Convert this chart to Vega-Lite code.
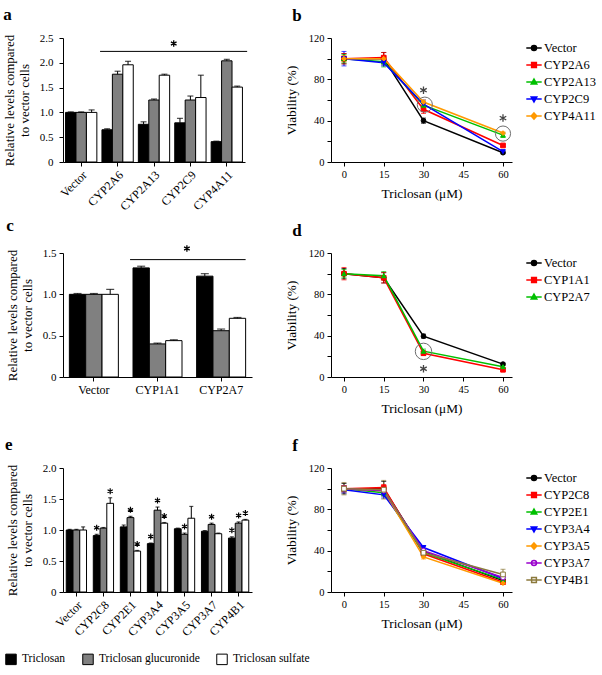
{
  "$schema": "https://vega.github.io/schema/vega-lite/v6.json",
  "padding": {"left": 3, "top": 6, "right": 0, "bottom": 0},
  "background": "white",
  "config": {
    "view": {"stroke": null},
    "font": "Liberation Serif",
    "axis": {"grid": false, "labelFont": "Liberation Serif", "titleFont": "Liberation Serif", "labelColor": "black", "titleColor": "black", "domainColor": "black", "tickColor": "black", "titleFontWeight": "normal", "tickSize": 4, "domainWidth": 1, "tickWidth": 1},
    "legend": {"labelFont": "Liberation Serif", "labelFontSize": 12.5, "labelColor": "black", "symbolSize": 196, "rowPadding": 2, "offset": 12, "padding": 2, "labelOffset": 2},
    "title": {"anchor": "start", "frame": "bounds", "font": "Liberation Serif", "fontSize": 17, "fontWeight": "bold", "color": "black", "offset": 8},
    "text": {"font": "Liberation Serif"}
  },
  "resolve": {"scale": {"xOffset": "independent", "fill": "independent", "color": "independent", "stroke": "independent", "shape": "independent"}, "legend": {"fill": "independent", "color": "independent", "stroke": "independent", "shape": "independent"}},
  "datasets": {
    "barsA": [
      {"g": "Vector", "m": "Triclosan", "v": 1.0, "hi": 1.01},
      {"g": "Vector", "m": "Triclosan glucuronide", "v": 1.0, "hi": 1.01},
      {"g": "Vector", "m": "Triclosan sulfate", "v": 1.0, "hi": 1.05},
      {"g": "CYP2A6", "m": "Triclosan", "v": 0.65, "hi": 0.67},
      {"g": "CYP2A6", "m": "Triclosan glucuronide", "v": 1.77, "hi": 1.83},
      {"g": "CYP2A6", "m": "Triclosan sulfate", "v": 1.96, "hi": 2.03},
      {"g": "CYP2A13", "m": "Triclosan", "v": 0.76, "hi": 0.81},
      {"g": "CYP2A13", "m": "Triclosan glucuronide", "v": 1.25, "hi": 1.27},
      {"g": "CYP2A13", "m": "Triclosan sulfate", "v": 1.75, "hi": 1.77},
      {"g": "CYP2C9", "m": "Triclosan", "v": 0.79, "hi": 0.88},
      {"g": "CYP2C9", "m": "Triclosan glucuronide", "v": 1.25, "hi": 1.33},
      {"g": "CYP2C9", "m": "Triclosan sulfate", "v": 1.30, "hi": 1.75},
      {"g": "CYP4A11", "m": "Triclosan", "v": 0.41, "hi": 0.42},
      {"g": "CYP4A11", "m": "Triclosan glucuronide", "v": 2.04, "hi": 2.07},
      {"g": "CYP4A11", "m": "Triclosan sulfate", "v": 1.51, "hi": 1.53}
    ],
    "sigA": [{"x1": "CYP2A6", "x2": "CYP4A11", "y": 2.23, "xs": "CYP2A13", "ys": 2.39}],
    "barsC": [
      {"g": "Vector", "m": "Triclosan", "v": 1.0, "hi": 1.01},
      {"g": "Vector", "m": "Triclosan glucuronide", "v": 1.0, "hi": 1.01},
      {"g": "Vector", "m": "Triclosan sulfate", "v": 1.0, "hi": 1.06},
      {"g": "CYP1A1", "m": "Triclosan", "v": 1.32, "hi": 1.34},
      {"g": "CYP1A1", "m": "Triclosan glucuronide", "v": 0.40, "hi": 0.41},
      {"g": "CYP1A1", "m": "Triclosan sulfate", "v": 0.44, "hi": 0.45},
      {"g": "CYP2A7", "m": "Triclosan", "v": 1.22, "hi": 1.25},
      {"g": "CYP2A7", "m": "Triclosan glucuronide", "v": 0.56, "hi": 0.58},
      {"g": "CYP2A7", "m": "Triclosan sulfate", "v": 0.71, "hi": 0.72}
    ],
    "sigC": [{"x1": "CYP1A1", "x2": "CYP2A7", "y": 1.42, "xs": "CYP1A1", "ys": 1.555}],
    "barsE": [
      {"g": "Vector", "m": "Triclosan", "v": 1.0, "hi": 1.01},
      {"g": "Vector", "m": "Triclosan glucuronide", "v": 1.0, "hi": 1.01},
      {"g": "Vector", "m": "Triclosan sulfate", "v": 1.0, "hi": 1.05},
      {"g": "CYP2C8", "m": "Triclosan", "v": 0.91, "hi": 0.93},
      {"g": "CYP2C8", "m": "Triclosan glucuronide", "v": 1.03, "hi": 1.04},
      {"g": "CYP2C8", "m": "Triclosan sulfate", "v": 1.43, "hi": 1.52},
      {"g": "CYP2E1", "m": "Triclosan", "v": 1.05, "hi": 1.08},
      {"g": "CYP2E1", "m": "Triclosan glucuronide", "v": 1.20, "hi": 1.22},
      {"g": "CYP2E1", "m": "Triclosan sulfate", "v": 0.66, "hi": 0.67},
      {"g": "CYP3A4", "m": "Triclosan", "v": 0.78, "hi": 0.79},
      {"g": "CYP3A4", "m": "Triclosan glucuronide", "v": 1.32, "hi": 1.37},
      {"g": "CYP3A4", "m": "Triclosan sulfate", "v": 1.11, "hi": 1.12},
      {"g": "CYP3A5", "m": "Triclosan", "v": 1.02, "hi": 1.03},
      {"g": "CYP3A5", "m": "Triclosan glucuronide", "v": 0.93, "hi": 0.95},
      {"g": "CYP3A5", "m": "Triclosan sulfate", "v": 1.19, "hi": 1.38},
      {"g": "CYP3A7", "m": "Triclosan", "v": 0.98, "hi": 0.99},
      {"g": "CYP3A7", "m": "Triclosan glucuronide", "v": 1.09, "hi": 1.11},
      {"g": "CYP3A7", "m": "Triclosan sulfate", "v": 0.94, "hi": 0.95},
      {"g": "CYP4B1", "m": "Triclosan", "v": 0.87, "hi": 0.89},
      {"g": "CYP4B1", "m": "Triclosan glucuronide", "v": 1.11, "hi": 1.13},
      {"g": "CYP4B1", "m": "Triclosan sulfate", "v": 1.16, "hi": 1.17}
    ],
    "starsE": [
      {"g": "CYP2C8", "m": "Triclosan", "y": 0.93},
      {"g": "CYP2C8", "m": "Triclosan sulfate", "y": 1.52},
      {"g": "CYP2E1", "m": "Triclosan glucuronide", "y": 1.22},
      {"g": "CYP2E1", "m": "Triclosan sulfate", "y": 0.67},
      {"g": "CYP3A4", "m": "Triclosan", "y": 0.79},
      {"g": "CYP3A4", "m": "Triclosan glucuronide", "y": 1.37},
      {"g": "CYP3A4", "m": "Triclosan sulfate", "y": 1.12},
      {"g": "CYP3A5", "m": "Triclosan glucuronide", "y": 0.95},
      {"g": "CYP3A7", "m": "Triclosan glucuronide", "y": 1.11},
      {"g": "CYP4B1", "m": "Triclosan", "y": 0.89},
      {"g": "CYP4B1", "m": "Triclosan glucuronide", "y": 1.13},
      {"g": "CYP4B1", "m": "Triclosan sulfate", "y": 1.17}
    ],
    "lineB": [
      {"s": "Vector", "x": 0, "y": 100, "lo": 95, "hi": 105},
      {"s": "Vector", "x": 15, "y": 100, "lo": 94, "hi": 106},
      {"s": "Vector", "x": 30, "y": 40, "lo": 37.5, "hi": 42.5},
      {"s": "Vector", "x": 60, "y": 9, "lo": 8, "hi": 10},
      {"s": "CYP2A6", "x": 0, "y": 100, "lo": 95, "hi": 105},
      {"s": "CYP2A6", "x": 15, "y": 101, "lo": 96, "hi": 106},
      {"s": "CYP2A6", "x": 30, "y": 51, "lo": 47, "hi": 55},
      {"s": "CYP2A6", "x": 60, "y": 16, "lo": 15, "hi": 17},
      {"s": "CYP2A13", "x": 0, "y": 100, "lo": 96, "hi": 104},
      {"s": "CYP2A13", "x": 15, "y": 97, "lo": 92, "hi": 102},
      {"s": "CYP2A13", "x": 30, "y": 55, "lo": 53, "hi": 57},
      {"s": "CYP2A13", "x": 60, "y": 26, "lo": 24, "hi": 28},
      {"s": "CYP2C9", "x": 0, "y": 100, "lo": 93, "hi": 107},
      {"s": "CYP2C9", "x": 15, "y": 96, "lo": 93, "hi": 99},
      {"s": "CYP2C9", "x": 30, "y": 56, "lo": 52, "hi": 60},
      {"s": "CYP2C9", "x": 60, "y": 10, "lo": 9, "hi": 11},
      {"s": "CYP4A11", "x": 0, "y": 100, "lo": 97, "hi": 103},
      {"s": "CYP4A11", "x": 15, "y": 100, "lo": 97, "hi": 103},
      {"s": "CYP4A11", "x": 30, "y": 58, "lo": 56, "hi": 60},
      {"s": "CYP4A11", "x": 60, "y": 28, "lo": 27, "hi": 29}
    ],
    "serB": [{"s": "Vector"}, {"s": "CYP2A6"}, {"s": "CYP2A13"}, {"s": "CYP2C9"}, {"s": "CYP4A11"}],
    "circB": [{"x": 30.5, "y": 55.5}, {"x": 60, "y": 27.5}],
    "starB": [{"x": 30, "y": 69.5}, {"x": 60, "y": 42.5}],
    "lineD": [
      {"s": "Vector", "x": 0, "y": 100, "lo": 95, "hi": 105},
      {"s": "Vector", "x": 15, "y": 96, "lo": 91, "hi": 101},
      {"s": "Vector", "x": 30, "y": 39.5, "lo": 37.5, "hi": 41.5},
      {"s": "Vector", "x": 60, "y": 12.5, "lo": 11.5, "hi": 13.5},
      {"s": "CYP1A1", "x": 0, "y": 100, "lo": 94, "hi": 106},
      {"s": "CYP1A1", "x": 15, "y": 96, "lo": 91, "hi": 101},
      {"s": "CYP1A1", "x": 30, "y": 23, "lo": 21, "hi": 25},
      {"s": "CYP1A1", "x": 60, "y": 7, "lo": 6, "hi": 8},
      {"s": "CYP2A7", "x": 0, "y": 100, "lo": 96, "hi": 104},
      {"s": "CYP2A7", "x": 15, "y": 98, "lo": 94, "hi": 102},
      {"s": "CYP2A7", "x": 30, "y": 25, "lo": 23, "hi": 27},
      {"s": "CYP2A7", "x": 60, "y": 10, "lo": 9, "hi": 11}
    ],
    "serD": [{"s": "Vector"}, {"s": "CYP1A1"}, {"s": "CYP2A7"}],
    "circD": [{"x": 30, "y": 24.8}],
    "starD": [{"x": 30, "y": 8}],
    "lineF": [
      {"s": "Vector", "x": 0, "y": 100, "lo": 95, "hi": 105},
      {"s": "Vector", "x": 15, "y": 100, "lo": 93, "hi": 107},
      {"s": "Vector", "x": 30, "y": 39, "lo": 37, "hi": 41},
      {"s": "Vector", "x": 60, "y": 11, "lo": 10, "hi": 12},
      {"s": "CYP2C8", "x": 0, "y": 100, "lo": 97, "hi": 103},
      {"s": "CYP2C8", "x": 15, "y": 101, "lo": 98, "hi": 104},
      {"s": "CYP2C8", "x": 30, "y": 37, "lo": 35, "hi": 39},
      {"s": "CYP2C8", "x": 60, "y": 9.5, "lo": 8.5, "hi": 10.5},
      {"s": "CYP2E1", "x": 0, "y": 100, "lo": 97, "hi": 103},
      {"s": "CYP2E1", "x": 15, "y": 96, "lo": 93, "hi": 99},
      {"s": "CYP2E1", "x": 30, "y": 38, "lo": 36, "hi": 40},
      {"s": "CYP2E1", "x": 60, "y": 12, "lo": 11, "hi": 13},
      {"s": "CYP3A4", "x": 0, "y": 99, "lo": 96, "hi": 102},
      {"s": "CYP3A4", "x": 15, "y": 94, "lo": 91, "hi": 97},
      {"s": "CYP3A4", "x": 30, "y": 43, "lo": 41, "hi": 45},
      {"s": "CYP3A4", "x": 60, "y": 13, "lo": 12, "hi": 14},
      {"s": "CYP3A5", "x": 0, "y": 100, "lo": 97, "hi": 103},
      {"s": "CYP3A5", "x": 15, "y": 98, "lo": 95, "hi": 101},
      {"s": "CYP3A5", "x": 30, "y": 34, "lo": 32, "hi": 36},
      {"s": "CYP3A5", "x": 60, "y": 8.5, "lo": 7.5, "hi": 9.5},
      {"s": "CYP3A7", "x": 0, "y": 100, "lo": 97, "hi": 103},
      {"s": "CYP3A7", "x": 15, "y": 98, "lo": 95, "hi": 101},
      {"s": "CYP3A7", "x": 30, "y": 40, "lo": 38, "hi": 42},
      {"s": "CYP3A7", "x": 60, "y": 14, "lo": 12, "hi": 16},
      {"s": "CYP4B1", "x": 0, "y": 100, "lo": 94, "hi": 106},
      {"s": "CYP4B1", "x": 15, "y": 99, "lo": 90, "hi": 108},
      {"s": "CYP4B1", "x": 30, "y": 38, "lo": 35, "hi": 41},
      {"s": "CYP4B1", "x": 60, "y": 17, "lo": 12, "hi": 22}
    ],
    "serF": [{"s": "Vector"}, {"s": "CYP2C8"}, {"s": "CYP2E1"}, {"s": "CYP3A4"}, {"s": "CYP3A5"}, {"s": "CYP3A7"}, {"s": "CYP4B1"}]
  },
  "columns": 2,
  "bounds": "flush",
  "spacing": {"column": 79, "row": 91},
  "concat": [
    {
      "width": 182, "height": 124,
      "title": {"text": "a"},
      "layer": [
        {"data": {"name": "barsA"}, "mark": {"type": "bar", "stroke": "black", "strokeWidth": 1},
         "encoding": {
           "x": {"field": "g", "type": "nominal", "title": null, "scale": {"domain": ["Vector", "CYP2A6", "CYP2A13", "CYP2C9", "CYP4A11"], "paddingInner": 0.14, "paddingOuter": 0.07}, "axis": {"labelAngle": -45, "labelFontSize": 12, "labelOverlap": false, "labelPadding": 3}},
           "xOffset": {"field": "m", "type": "nominal", "scale": {"domain": ["Triclosan", "Triclosan glucuronide", "Triclosan sulfate"], "paddingInner": 0, "paddingOuter": 0}},
           "y": {"field": "v", "type": "quantitative", "title": ["Relative levels compared", "to vector cells"], "scale": {"domain": [0, 2.5], "nice": false}, "axis": {"values": [0, 0.5, 1, 1.5, 2, 2.5], "tickCount": 20, "labelExpr": "datum.value === 0 ? '0' : format(datum.value, '.1f')", "labelOverlap": false, "labelFontSize": 11, "labelPadding": 6, "titleFontSize": 13, "titlePadding": 8}},
           "fill": {"field": "m", "type": "nominal", "scale": {"domain": ["Triclosan", "Triclosan glucuronide", "Triclosan sulfate"], "range": ["black", "#808080", "white"]}, "legend": null}
         }},
        {"data": {"name": "barsA"}, "mark": {"type": "rule", "color": "black", "strokeWidth": 1},
         "encoding": {
           "x": {"field": "g", "type": "nominal", "scale": {"domain": ["Vector", "CYP2A6", "CYP2A13", "CYP2C9", "CYP4A11"]}},
           "xOffset": {"field": "m", "type": "nominal", "scale": {"domain": ["Triclosan", "Triclosan glucuronide", "Triclosan sulfate"]}},
           "y": {"field": "v", "type": "quantitative"}, "y2": {"field": "hi"}}},
        {"data": {"name": "barsA"}, "mark": {"type": "tick", "orient": "horizontal", "color": "black", "size": 6, "thickness": 1.2},
         "encoding": {
           "x": {"field": "g", "type": "nominal", "scale": {"domain": ["Vector", "CYP2A6", "CYP2A13", "CYP2C9", "CYP4A11"]}},
           "xOffset": {"field": "m", "type": "nominal", "scale": {"domain": ["Triclosan", "Triclosan glucuronide", "Triclosan sulfate"]}},
           "y": {"field": "hi", "type": "quantitative"}}},
        {"data": {"name": "sigA"}, "mark": {"type": "rule", "color": "black", "strokeWidth": 1},
         "encoding": {
           "x": {"field": "x1", "type": "nominal", "bandPosition": -0.06, "scale": {"domain": ["Vector", "CYP2A6", "CYP2A13", "CYP2C9", "CYP4A11"]}},
           "x2": {"field": "x2", "bandPosition": 1.15},
           "y": {"field": "y", "type": "quantitative"}}},
        {"data": {"name": "sigA"}, "mark": {"type": "point", "shape": "M0,-1V1M-0.87,-0.5L0.87,0.5M-0.87,0.5L0.87,-0.5", "size": 42, "filled": false, "stroke": "black", "strokeWidth": 1.3, "opacity": 1},
         "encoding": {
           "x": {"field": "xs", "type": "nominal", "bandPosition": 1.13, "scale": {"domain": ["Vector", "CYP2A6", "CYP2A13", "CYP2C9", "CYP4A11"]}},
           "y": {"field": "ys", "type": "quantitative"}}}
      ]
    },
    {
      "width": 181, "height": 124,
      "title": {"text": "b", "dx": 8},
      "resolve": {"scale": {"color": "independent", "fill": "independent", "stroke": "independent", "shape": "independent"}},
      "layer": [
        {
          "data": {"name": "lineB"},
          "encoding": {
            "x": {"field": "x", "type": "quantitative", "title": "Triclosan (μM)", "scale": {"domain": [-4.9, 63.4], "nice": false, "zero": false}, "axis": {"values": [0, 15, 30, 45, 60], "tickCount": 20, "labelFontSize": 10.5, "labelPadding": 3, "titleFontSize": 13.3, "titlePadding": 7}}
          },
          "layer": [
            {"mark": {"type": "rule", "strokeWidth": 1},
             "encoding": {
               "y": {"field": "lo", "type": "quantitative", "title": "Viability (%)", "scale": {"domain": [0, 120], "nice": false}, "axis": {"values": [0, 20, 40, 60, 80, 100, 120], "tickCount": 20, "labelExpr": "datum.value % 40 === 0 ? datum.label : ''", "labelFontSize": 10.5, "labelPadding": 3, "titleFontSize": 13.3, "titlePadding": 10}},
               "y2": {"field": "hi"},
               "color": {"field": "s", "type": "nominal", "scale": {"domain": ["Vector", "CYP2A6", "CYP2A13", "CYP2C9", "CYP4A11"], "range": ["black", "#ff0000", "#00c000", "#0000ff", "#ff9900"]}, "legend": null}}},
            {"mark": {"type": "tick", "orient": "horizontal", "size": 5, "thickness": 1},
             "encoding": {"y": {"field": "lo", "type": "quantitative"}, "color": {"field": "s", "type": "nominal", "legend": null}}},
            {"mark": {"type": "tick", "orient": "horizontal", "size": 5, "thickness": 1},
             "encoding": {"y": {"field": "hi", "type": "quantitative"}, "color": {"field": "s", "type": "nominal", "legend": null}}},
            {"mark": {"type": "line", "strokeWidth": 1.5},
             "encoding": {"y": {"field": "y", "type": "quantitative"}, "color": {"field": "s", "type": "nominal", "legend": null}}},
            {"mark": {"type": "point", "filled": true, "size": 22, "strokeWidth": 1, "opacity": 1},
             "encoding": {
               "y": {"field": "y", "type": "quantitative"},
               "fill": {"field": "s", "type": "nominal", "scale": {"domain": ["Vector", "CYP2A6", "CYP2A13", "CYP2C9", "CYP4A11"], "range": ["black", "#ff0000", "#00c000", "#0000ff", "#ff9900"]}, "legend": null},
               "stroke": {"field": "s", "type": "nominal", "scale": {"domain": ["Vector", "CYP2A6", "CYP2A13", "CYP2C9", "CYP4A11"], "range": ["black", "#ff0000", "#00c000", "#0000ff", "#ff9900"]}, "legend": null},
               "shape": {"field": "s", "type": "nominal", "scale": {"domain": ["Vector", "CYP2A6", "CYP2A13", "CYP2C9", "CYP4A11"], "range": ["circle", "square", "triangle-up", "triangle-down", "diamond"]}, "legend": null}}}
          ]
        },
        {"data": {"name": "serB"}, "transform": [{"filter": "false"}],
         "mark": {"type": "point", "filled": true, "strokeWidth": 1.5, "opacity": 1},
         "encoding": {
           "fill": {"field": "s", "type": "nominal", "scale": {"domain": ["Vector", "CYP2A6", "CYP2A13", "CYP2C9", "CYP4A11"], "range": ["black", "#ff0000", "#00c000", "#0000ff", "#ff9900"]}, "legend": {"title": null}},
           "stroke": {"field": "s", "type": "nominal", "scale": {"domain": ["Vector", "CYP2A6", "CYP2A13", "CYP2C9", "CYP4A11"], "range": ["black", "#ff0000", "#00c000", "#0000ff", "#ff9900"]}, "legend": {"title": null}},
           "shape": {"field": "s", "type": "nominal", "scale": {"domain": ["Vector", "CYP2A6", "CYP2A13", "CYP2C9", "CYP4A11"], "range": ["M-1.1,0H1.1M0.36,0A0.36,0.36,0,1,1,-0.36,0A0.36,0.36,0,1,1,0.36,0Z", "M-1.1,0H1.1M-0.34,-0.34H0.34V0.34H-0.34Z", "M-1.1,0H1.1M0,-0.42L0.4,0.3H-0.4Z", "M-1.1,0H1.1M0,0.42L0.4,-0.3H-0.4Z", "M-1.1,0H1.1M0,-0.44L0.4,0L0,0.44L-0.4,0Z"]}, "legend": {"title": null}}}},
        {"data": {"name": "circB"}, "mark": {"type": "point", "shape": "circle", "size": 230, "filled": false, "stroke": "#6e6e6e", "strokeWidth": 1, "opacity": 1},
         "encoding": {"x": {"field": "x", "type": "quantitative", "scale": {"domain": [-4.9, 63.4], "nice": false, "zero": false}}, "y": {"field": "y", "type": "quantitative", "scale": {"domain": [0, 120], "nice": false}}}},
        {"data": {"name": "starB"}, "mark": {"type": "point", "shape": "M0,-1V1M-0.87,-0.5L0.87,0.5M-0.87,0.5L0.87,-0.5", "size": 56, "filled": false, "stroke": "#444444", "strokeWidth": 1.3, "opacity": 1},
         "encoding": {"x": {"field": "x", "type": "quantitative", "scale": {"domain": [-4.9, 63.4], "nice": false, "zero": false}}, "y": {"field": "y", "type": "quantitative", "scale": {"domain": [0, 120], "nice": false}}}}
      ]
    },
    {
      "width": 189, "height": 124,
      "title": {"text": "c"},
      "layer": [
        {"data": {"name": "barsC"}, "mark": {"type": "bar", "stroke": "black", "strokeWidth": 1},
         "encoding": {
           "x": {"field": "g", "type": "nominal", "title": null, "scale": {"domain": ["Vector", "CYP1A1", "CYP2A7"], "paddingInner": 0.23, "paddingOuter": 0.1}, "axis": {"labelAngle": 0, "labelFontSize": 12, "labelOverlap": false, "labelPadding": 3}},
           "xOffset": {"field": "m", "type": "nominal", "scale": {"domain": ["Triclosan", "Triclosan glucuronide", "Triclosan sulfate"], "paddingInner": 0, "paddingOuter": 0}},
           "y": {"field": "v", "type": "quantitative", "title": ["Relative levels compared", "to vector cells"], "scale": {"domain": [0, 1.5], "nice": false}, "axis": {"values": [0, 0.5, 1, 1.5], "tickCount": 20, "labelExpr": "datum.value === 0 ? '0' : format(datum.value, '.1f')", "labelOverlap": false, "labelFontSize": 11, "labelPadding": 3, "titleFontSize": 13, "titlePadding": 8}},
           "fill": {"field": "m", "type": "nominal", "scale": {"domain": ["Triclosan", "Triclosan glucuronide", "Triclosan sulfate"], "range": ["black", "#808080", "white"]}, "legend": null}
         }},
        {"data": {"name": "barsC"}, "mark": {"type": "rule", "color": "black", "strokeWidth": 1},
         "encoding": {
           "x": {"field": "g", "type": "nominal", "scale": {"domain": ["Vector", "CYP1A1", "CYP2A7"]}},
           "xOffset": {"field": "m", "type": "nominal", "scale": {"domain": ["Triclosan", "Triclosan glucuronide", "Triclosan sulfate"]}},
           "y": {"field": "v", "type": "quantitative"}, "y2": {"field": "hi"}}},
        {"data": {"name": "barsC"}, "mark": {"type": "tick", "orient": "horizontal", "color": "black", "size": 8, "thickness": 1.2},
         "encoding": {
           "x": {"field": "g", "type": "nominal", "scale": {"domain": ["Vector", "CYP1A1", "CYP2A7"]}},
           "xOffset": {"field": "m", "type": "nominal", "scale": {"domain": ["Triclosan", "Triclosan glucuronide", "Triclosan sulfate"]}},
           "y": {"field": "hi", "type": "quantitative"}}},
        {"data": {"name": "sigC"}, "mark": {"type": "rule", "color": "black", "strokeWidth": 1},
         "encoding": {
           "x": {"field": "x1", "type": "nominal", "bandPosition": -0.06, "scale": {"domain": ["Vector", "CYP1A1", "CYP2A7"]}},
           "x2": {"field": "x2", "bandPosition": 1.0},
           "y": {"field": "y", "type": "quantitative"}}},
        {"data": {"name": "sigC"}, "mark": {"type": "point", "shape": "M0,-1V1M-0.87,-0.5L0.87,0.5M-0.87,0.5L0.87,-0.5", "size": 42, "filled": false, "stroke": "black", "strokeWidth": 1.3, "opacity": 1},
         "encoding": {
           "x": {"field": "xs", "type": "nominal", "bandPosition": 1.1, "scale": {"domain": ["Vector", "CYP1A1", "CYP2A7"]}},
           "y": {"field": "ys", "type": "quantitative"}}}
      ]
    },
    {
      "width": 181, "height": 124,
      "title": {"text": "d", "dx": 8},
      "resolve": {"scale": {"color": "independent", "fill": "independent", "stroke": "independent", "shape": "independent"}},
      "layer": [
        {
          "data": {"name": "lineD"},
          "encoding": {
            "x": {"field": "x", "type": "quantitative", "title": "Triclosan (μM)", "scale": {"domain": [-4.9, 63.4], "nice": false, "zero": false}, "axis": {"values": [0, 15, 30, 45, 60], "tickCount": 20, "labelFontSize": 10.5, "labelPadding": 3, "titleFontSize": 13.3, "titlePadding": 7}}
          },
          "layer": [
            {"mark": {"type": "rule", "strokeWidth": 1},
             "encoding": {
               "y": {"field": "lo", "type": "quantitative", "title": "Viability (%)", "scale": {"domain": [0, 120], "nice": false}, "axis": {"values": [0, 20, 40, 60, 80, 100, 120], "tickCount": 20, "labelExpr": "datum.value % 40 === 0 ? datum.label : ''", "labelFontSize": 10.5, "labelPadding": 3, "titleFontSize": 13.3, "titlePadding": 10}},
               "y2": {"field": "hi"},
               "color": {"field": "s", "type": "nominal", "scale": {"domain": ["Vector", "CYP1A1", "CYP2A7"], "range": ["black", "#ff0000", "#00c000"]}, "legend": null}}},
            {"mark": {"type": "tick", "orient": "horizontal", "size": 5, "thickness": 1},
             "encoding": {"y": {"field": "lo", "type": "quantitative"}, "color": {"field": "s", "type": "nominal", "legend": null}}},
            {"mark": {"type": "tick", "orient": "horizontal", "size": 5, "thickness": 1},
             "encoding": {"y": {"field": "hi", "type": "quantitative"}, "color": {"field": "s", "type": "nominal", "legend": null}}},
            {"mark": {"type": "line", "strokeWidth": 1.5},
             "encoding": {"y": {"field": "y", "type": "quantitative"}, "color": {"field": "s", "type": "nominal", "legend": null}}},
            {"mark": {"type": "point", "filled": true, "size": 22, "strokeWidth": 1, "opacity": 1},
             "encoding": {
               "y": {"field": "y", "type": "quantitative"},
               "fill": {"field": "s", "type": "nominal", "scale": {"domain": ["Vector", "CYP1A1", "CYP2A7"], "range": ["black", "#ff0000", "#00c000"]}, "legend": null},
               "stroke": {"field": "s", "type": "nominal", "scale": {"domain": ["Vector", "CYP1A1", "CYP2A7"], "range": ["black", "#ff0000", "#00c000"]}, "legend": null},
               "shape": {"field": "s", "type": "nominal", "scale": {"domain": ["Vector", "CYP1A1", "CYP2A7"], "range": ["circle", "square", "triangle-up"]}, "legend": null}}}
          ]
        },
        {"data": {"name": "serD"}, "transform": [{"filter": "false"}],
         "mark": {"type": "point", "filled": true, "strokeWidth": 1.5, "opacity": 1},
         "encoding": {
           "fill": {"field": "s", "type": "nominal", "scale": {"domain": ["Vector", "CYP1A1", "CYP2A7"], "range": ["black", "#ff0000", "#00c000"]}, "legend": {"title": null}},
           "stroke": {"field": "s", "type": "nominal", "scale": {"domain": ["Vector", "CYP1A1", "CYP2A7"], "range": ["black", "#ff0000", "#00c000"]}, "legend": {"title": null}},
           "shape": {"field": "s", "type": "nominal", "scale": {"domain": ["Vector", "CYP1A1", "CYP2A7"], "range": ["M-1.1,0H1.1M0.36,0A0.36,0.36,0,1,1,-0.36,0A0.36,0.36,0,1,1,0.36,0Z", "M-1.1,0H1.1M-0.34,-0.34H0.34V0.34H-0.34Z", "M-1.1,0H1.1M0,-0.42L0.4,0.3H-0.4Z"]}, "legend": {"title": null}}}},
        {"data": {"name": "circD"}, "mark": {"type": "point", "shape": "circle", "size": 270, "filled": false, "stroke": "#6e6e6e", "strokeWidth": 1, "opacity": 1},
         "encoding": {"x": {"field": "x", "type": "quantitative", "scale": {"domain": [-4.9, 63.4], "nice": false, "zero": false}}, "y": {"field": "y", "type": "quantitative", "scale": {"domain": [0, 120], "nice": false}}}},
        {"data": {"name": "starD"}, "mark": {"type": "point", "shape": "M0,-1V1M-0.87,-0.5L0.87,0.5M-0.87,0.5L0.87,-0.5", "size": 56, "filled": false, "stroke": "#444444", "strokeWidth": 1.3, "opacity": 1},
         "encoding": {"x": {"field": "x", "type": "quantitative", "scale": {"domain": [-4.9, 63.4], "nice": false, "zero": false}}, "y": {"field": "y", "type": "quantitative", "scale": {"domain": [0, 120], "nice": false}}}}
      ]
    },
    {
      "width": 189, "height": 124,
      "title": {"text": "e"},
      "layer": [
        {"data": {"name": "barsE"}, "mark": {"type": "bar", "stroke": "black", "strokeWidth": 1},
         "encoding": {
           "x": {"field": "g", "type": "nominal", "title": null, "scale": {"domain": ["Vector", "CYP2C8", "CYP2E1", "CYP3A4", "CYP3A5", "CYP3A7", "CYP4B1"], "paddingInner": 0.25, "paddingOuter": 0.12}, "axis": {"labelAngle": -45, "labelFontSize": 12, "labelOverlap": false, "labelPadding": 3}},
           "xOffset": {"field": "m", "type": "nominal", "scale": {"domain": ["Triclosan", "Triclosan glucuronide", "Triclosan sulfate"], "paddingInner": 0, "paddingOuter": 0}},
           "y": {"field": "v", "type": "quantitative", "title": ["Relative levels compared", "to vector cells"], "scale": {"domain": [0, 2], "nice": false}, "axis": {"values": [0, 0.5, 1, 1.5, 2], "tickCount": 20, "labelExpr": "datum.value === 0 ? '0' : format(datum.value, '.1f')", "labelOverlap": false, "labelFontSize": 11, "labelPadding": 3, "titleFontSize": 13, "titlePadding": 8}},
           "fill": {"field": "m", "type": "nominal", "scale": {"domain": ["Triclosan", "Triclosan glucuronide", "Triclosan sulfate"], "range": ["black", "#808080", "white"]},
             "legend": {"orient": "none", "legendX": -58, "legendY": 185, "direction": "horizontal", "title": null, "symbolType": "square", "symbolSize": 110, "symbolStrokeColor": "black", "symbolStrokeWidth": 1, "labelFontSize": 11.5, "columnPadding": 14, "labelOffset": 5, "padding": 0}}
         }},
        {"data": {"name": "barsE"}, "mark": {"type": "rule", "color": "black", "strokeWidth": 1},
         "encoding": {
           "x": {"field": "g", "type": "nominal", "scale": {"domain": ["Vector", "CYP2C8", "CYP2E1", "CYP3A4", "CYP3A5", "CYP3A7", "CYP4B1"]}},
           "xOffset": {"field": "m", "type": "nominal", "scale": {"domain": ["Triclosan", "Triclosan glucuronide", "Triclosan sulfate"]}},
           "y": {"field": "v", "type": "quantitative"}, "y2": {"field": "hi"}}},
        {"data": {"name": "barsE"}, "mark": {"type": "tick", "orient": "horizontal", "color": "black", "size": 4, "thickness": 1.2},
         "encoding": {
           "x": {"field": "g", "type": "nominal", "scale": {"domain": ["Vector", "CYP2C8", "CYP2E1", "CYP3A4", "CYP3A5", "CYP3A7", "CYP4B1"]}},
           "xOffset": {"field": "m", "type": "nominal", "scale": {"domain": ["Triclosan", "Triclosan glucuronide", "Triclosan sulfate"]}},
           "y": {"field": "hi", "type": "quantitative"}}},
        {"data": {"name": "starsE"}, "mark": {"type": "point", "shape": "M0,-1V1M-0.87,-0.5L0.87,0.5M-0.87,0.5L0.87,-0.5", "size": 36, "filled": false, "stroke": "black", "strokeWidth": 1.2, "opacity": 1, "yOffset": -6.5},
         "encoding": {
           "x": {"field": "g", "type": "nominal", "scale": {"domain": ["Vector", "CYP2C8", "CYP2E1", "CYP3A4", "CYP3A5", "CYP3A7", "CYP4B1"]}},
           "xOffset": {"field": "m", "type": "nominal", "scale": {"domain": ["Triclosan", "Triclosan glucuronide", "Triclosan sulfate"]}},
           "y": {"field": "y", "type": "quantitative"}}}
      ]
    },
    {
      "width": 181, "height": 124,
      "title": {"text": "f", "dx": 8},
      "resolve": {"scale": {"color": "independent", "fill": "independent", "stroke": "independent", "shape": "independent"}},
      "layer": [
        {
          "data": {"name": "lineF"},
          "encoding": {
            "x": {"field": "x", "type": "quantitative", "title": "Triclosan (μM)", "scale": {"domain": [-4.9, 63.4], "nice": false, "zero": false}, "axis": {"values": [0, 15, 30, 45, 60], "tickCount": 20, "labelFontSize": 10.5, "labelPadding": 3, "titleFontSize": 13.3, "titlePadding": 7}}
          },
          "layer": [
            {"mark": {"type": "rule", "strokeWidth": 1},
             "encoding": {
               "y": {"field": "lo", "type": "quantitative", "title": "Viability (%)", "scale": {"domain": [0, 120], "nice": false}, "axis": {"values": [0, 20, 40, 60, 80, 100, 120], "tickCount": 20, "labelExpr": "datum.value % 40 === 0 ? datum.label : ''", "labelFontSize": 10.5, "labelPadding": 3, "titleFontSize": 13.3, "titlePadding": 10}},
               "y2": {"field": "hi"},
               "color": {"field": "s", "type": "nominal", "scale": {"domain": ["Vector", "CYP2C8", "CYP2E1", "CYP3A4", "CYP3A5", "CYP3A7", "CYP4B1"], "range": ["black", "#ff0000", "#00c000", "#0000ff", "#ff9900", "#9900cc", "#8c7a3c"]}, "legend": null}}},
            {"mark": {"type": "tick", "orient": "horizontal", "size": 5, "thickness": 1},
             "encoding": {"y": {"field": "lo", "type": "quantitative"}, "color": {"field": "s", "type": "nominal", "legend": null}}},
            {"mark": {"type": "tick", "orient": "horizontal", "size": 5, "thickness": 1},
             "encoding": {"y": {"field": "hi", "type": "quantitative"}, "color": {"field": "s", "type": "nominal", "legend": null}}},
            {"mark": {"type": "line", "strokeWidth": 1.5},
             "encoding": {"y": {"field": "y", "type": "quantitative"}, "color": {"field": "s", "type": "nominal", "legend": null}}},
            {"mark": {"type": "point", "filled": true, "size": 22, "strokeWidth": 1, "opacity": 1},
             "encoding": {
               "y": {"field": "y", "type": "quantitative"},
               "fill": {"field": "s", "type": "nominal", "scale": {"domain": ["Vector", "CYP2C8", "CYP2E1", "CYP3A4", "CYP3A5", "CYP3A7", "CYP4B1"], "range": ["black", "#ff0000", "#00c000", "#0000ff", "#ff9900", "white", "white"]}, "legend": null},
               "stroke": {"field": "s", "type": "nominal", "scale": {"domain": ["Vector", "CYP2C8", "CYP2E1", "CYP3A4", "CYP3A5", "CYP3A7", "CYP4B1"], "range": ["black", "#ff0000", "#00c000", "#0000ff", "#ff9900", "#9900cc", "#8c7a3c"]}, "legend": null},
               "shape": {"field": "s", "type": "nominal", "scale": {"domain": ["Vector", "CYP2C8", "CYP2E1", "CYP3A4", "CYP3A5", "CYP3A7", "CYP4B1"], "range": ["circle", "square", "triangle-up", "triangle-down", "diamond", "circle", "square"]}, "legend": null}}}
          ]
        },
        {"data": {"name": "serF"}, "transform": [{"filter": "false"}],
         "mark": {"type": "point", "filled": true, "strokeWidth": 1.5, "opacity": 1},
         "encoding": {
           "fill": {"field": "s", "type": "nominal", "scale": {"domain": ["Vector", "CYP2C8", "CYP2E1", "CYP3A4", "CYP3A5", "CYP3A7", "CYP4B1"], "range": ["black", "#ff0000", "#00c000", "#0000ff", "#ff9900", "white", "white"]}, "legend": {"title": null}},
           "stroke": {"field": "s", "type": "nominal", "scale": {"domain": ["Vector", "CYP2C8", "CYP2E1", "CYP3A4", "CYP3A5", "CYP3A7", "CYP4B1"], "range": ["black", "#ff0000", "#00c000", "#0000ff", "#ff9900", "#9900cc", "#8c7a3c"]}, "legend": {"title": null}},
           "shape": {"field": "s", "type": "nominal", "scale": {"domain": ["Vector", "CYP2C8", "CYP2E1", "CYP3A4", "CYP3A5", "CYP3A7", "CYP4B1"], "range": ["M-1.1,0H1.1M0.36,0A0.36,0.36,0,1,1,-0.36,0A0.36,0.36,0,1,1,0.36,0Z", "M-1.1,0H1.1M-0.34,-0.34H0.34V0.34H-0.34Z", "M-1.1,0H1.1M0,-0.42L0.4,0.3H-0.4Z", "M-1.1,0H1.1M0,0.42L0.4,-0.3H-0.4Z", "M-1.1,0H1.1M0,-0.44L0.4,0L0,0.44L-0.4,0Z", "M-1.1,0H1.1M0.36,0A0.36,0.36,0,1,1,-0.36,0A0.36,0.36,0,1,1,0.36,0Z", "M-1.1,0H1.1M-0.34,-0.34H0.34V0.34H-0.34Z"]}, "legend": {"title": null}}}}
      ]
    }
  ]
}
